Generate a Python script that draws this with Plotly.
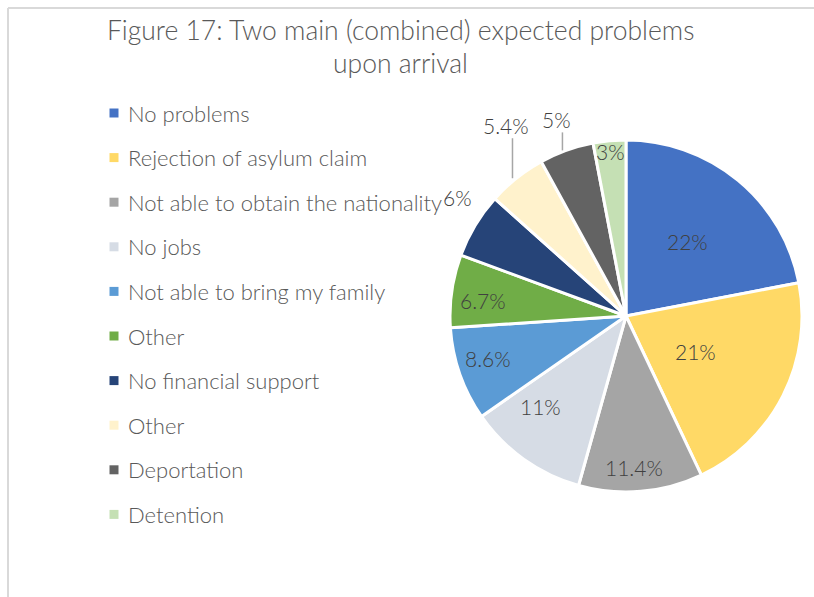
import math
import plotly.graph_objects as go

# Survey answers: two main (combined) expected problems upon arrival, in %
categories = [
    "No problems",
    "Rejection of asylum claim",
    "Not able to obtain the nationality",
    "No jobs",
    "Not able to bring my family",
    "Other",
    "No financial support",
    "Other",
    "Deportation",
    "Detention",
]
shares = [22, 21, 11.4, 11, 8.6, 6.7, 6, 5.4, 5, 3]
value_labels = ["22%", "21%", "11.4%", "11%", "8.6%", "6.7%", "6%", "5.4%", "5%", "3%"]
colors = [
    "#4472C4", "#FFD966", "#A5A5A5", "#D6DCE5", "#5B9BD5",
    "#70AD47", "#264478", "#FFF2CC", "#636363", "#C5E0B4",
]
title_lines = ["Figure 17: Two main (combined) expected problems", "upon arrival"]

W, H = 814, 597
TEXT_GREY = "#595959"
FONT = "Lato"

# pie placement in pixels
CX, CY, R = 626, 316, 176

# label placement style: radial fraction, angle nudge (deg); None -> leader line with lift (px)
label_radius = [0.55, 0.44, 0.86, 0.71, 0.82, 0.82, 1.17, None, None, 0.94]
label_nudge = [0, 0, 2, 8, 2, -2, 4, 0, 0, 0]
leader_lift = {7: 53, 8: 31}


def px(x):
    return x / W


def py(y):
    return 1 - y / H


fig = go.Figure()
fig.add_trace(
    go.Pie(
        labels=[f"{c}#{i}" for i, c in enumerate(categories)],
        values=shares,
        sort=False,
        direction="clockwise",
        rotation=0,
        textinfo="none",
        hoverinfo="skip",
        showlegend=False,
        marker=dict(colors=colors, line=dict(color="white", width=3)),
        domain=dict(x=[px(CX - R), px(CX + R)], y=[py(CY + R), py(CY - R)]),
    )
)

annotations = []
shapes = []

# title, one centred line at a time
for k, line in enumerate(title_lines):
    annotations.append(dict(
        x=px(400), y=py(30 + 33 * k), xref="paper", yref="paper", text=line,
        showarrow=False, xanchor="center", yanchor="middle",
        font=dict(family=FONT, size=26.5, color=TEXT_GREY, weight=300),
    ))

# value labels, positioned from each slice's mid angle
total = sum(shares)
start = 0.0
for i, (v, lab) in enumerate(zip(shares, value_labels)):
    span = 360.0 * v / total
    mid = math.radians(start + span / 2)
    start += span
    if label_radius[i] is None:
        ax = CX + R * math.sin(mid)
        ay = CY - R * math.cos(mid)
        lift = leader_lift[i]
        shapes.append(dict(type="line", xref="paper", yref="paper",
                           x0=px(ax - 4), x1=px(ax - 4), y0=py(ay), y1=py(ay - lift + 13),
                           line=dict(color="#A6A6A6", width=1.5)))
        lx, ly = ax - 10, ay - lift
    else:
        a = mid + math.radians(label_nudge[i])
        rr = R * label_radius[i]
        lx = CX + rr * math.sin(a)
        ly = CY - rr * math.cos(a)
    annotations.append(dict(
        x=px(lx), y=py(ly), xref="paper", yref="paper", text=lab, showarrow=False,
        xanchor="center", yanchor="middle",
        font=dict(family=FONT, size=21, color="#404040", weight=300),
    ))

# legend: colour squares with category names
LEG_X, LEG_Y0, LEG_DY = 114, 113, 44.6
for i, (cat, col) in enumerate(zip(categories, colors)):
    y = LEG_Y0 + i * LEG_DY
    shapes.append(dict(type="rect", xref="paper", yref="paper",
                       x0=px(LEG_X - 4.5), x1=px(LEG_X + 4.5), y0=py(y + 4.5), y1=py(y - 4.5),
                       fillcolor=col, line=dict(width=0)))
    annotations.append(dict(
        x=px(LEG_X + 12), y=py(y), xref="paper", yref="paper", text=cat, showarrow=False,
        xanchor="left", yanchor="middle",
        font=dict(family=FONT, size=22, color=TEXT_GREY, weight=300),
    ))

# chart-area frame (top and left edges)
shapes.append(dict(type="line", xref="paper", yref="paper", x0=px(8), x1=1, y0=py(8), y1=py(8),
                   line=dict(color="#D9D9D9", width=2)))
shapes.append(dict(type="line", xref="paper", yref="paper", x0=px(8), x1=px(8), y0=py(8), y1=0,
                   line=dict(color="#D9D9D9", width=2)))

fig.update_layout(
    width=W, height=H,
    margin=dict(l=0, r=0, t=0, b=0),
    paper_bgcolor="white", plot_bgcolor="white",
    annotations=annotations,
    shapes=shapes,
    showlegend=False,
)

fig.write_html("out.html")
